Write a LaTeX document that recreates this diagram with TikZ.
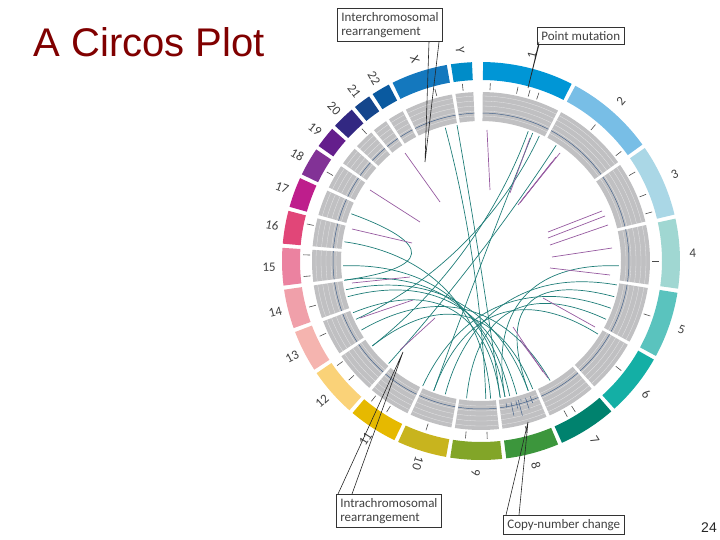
\documentclass[tikz,border=0pt]{standalone}
\usepackage{fontspec}
\setmainfont{Liberation Sans}
\newfontfamily\boxfont{Carlito}
\definecolor{titred}{RGB}{128,0,0}
\definecolor{teal1}{RGB}{30,125,120}
\definecolor{purp}{RGB}{150,90,160}
\definecolor{ringgray}{RGB}{192,192,194}
\definecolor{stepc}{RGB}{70,100,140}
\definecolor{c1}{RGB}{0,150,214}\definecolor{c2}{RGB}{120,190,230}\definecolor{c3}{RGB}{170,215,230}
\definecolor{c4}{RGB}{160,215,210}\definecolor{c5}{RGB}{90,195,190}\definecolor{c6}{RGB}{20,175,165}
\definecolor{c7}{RGB}{0,130,110}\definecolor{c8}{RGB}{60,150,60}\definecolor{c9}{RGB}{130,165,40}
\definecolor{c10}{RGB}{200,180,30}\definecolor{c11}{RGB}{230,185,0}\definecolor{c12}{RGB}{250,210,120}
\definecolor{c13}{RGB}{245,180,175}\definecolor{c14}{RGB}{240,160,170}\definecolor{c15}{RGB}{235,130,160}
\definecolor{c16}{RGB}{225,70,120}\definecolor{c17}{RGB}{190,30,140}\definecolor{c18}{RGB}{130,50,150}
\definecolor{c19}{RGB}{100,30,140}\definecolor{c20}{RGB}{50,40,130}\definecolor{c21}{RGB}{20,70,140}
\definecolor{c22}{RGB}{10,90,160}\definecolor{cX}{RGB}{20,120,190}\definecolor{cY}{RGB}{0,140,200}
\tikzset{
 callbox/.style={draw=black!80,line width=0.7pt,fill=white,align=left,inner sep=4pt,font=\boxfont\fontsize{13}{14}\selectfont,text=black!75},
 callline/.style={draw=black!85,line width=0.6pt},
 interlink/.style={draw=teal1,line width=0.7pt},
 intralink/.style={draw=purp,line width=0.7pt},
 tickm/.style={draw=black!70,line width=0.6pt},
 chrlab/.style={font=\boxfont\fontsize{13}{14}\selectfont,text=black!75,inner sep=1pt}
}
\begin{document}
\begin{tikzpicture}[x=1pt,y=-1pt]
\useasboundingbox (0,0) rectangle (720,540);
\node[anchor=west,text=titred,font=\fontsize{40}{44}\selectfont] (title) at (30,42) {A Circos Plot};
\node[font=\fontsize{14}{16}\selectfont,text=black!85] (pg) at (709,528) {24};
\begin{scope}[shift={(481,261)}]
\coordinate (ctr) at (0,0);
\foreach \s/\e/\l/\c in {0.6/27.1/1/c1,28.3/54.2/2/c2,55.4/76.5/3/c3,77.7/98.0/4/c4,99.2/118.5/5/c5,119.7/137.9/6/c6,139.1/156.0/7/c7,157.2/172.7/8/c8,173.9/188.9/9/c9,190.1/204.6/10/c10,205.8/220.2/11/c11,221.4/235.7/12/c12,236.9/249.1/13/c13,250.3/261.7/14/c14,262.9/273.8/15/c15,275.0/284.6/16/c16,285.8/294.6/17/c17,295.8/304.1/18/c18,305.3/311.6/19/c19,312.8/319.5/20/c20,320.7/325.8/21/c21,327.0/332.4/22/c22,333.6/350.1/X/cX,351.3/357.4/Y/cY}{
  \fill[\c] plot[variable=\t,domain=\s-90:\e-90,samples=16] (\t:199) -- plot[variable=\t,domain=\e-90:\s-90,samples=16] (\t:181) -- cycle;
  \fill[ringgray] plot[variable=\t,domain=\s-90:\e-90,samples=16] (\t:169) -- plot[variable=\t,domain=\e-90:\s-90,samples=16] (\t:140) -- cycle;
  \foreach \r in {145,150,155,160,165}{\draw[white!60!ringgray,line width=0.3pt] plot[variable=\t,domain=\s-90:\e-90,samples=12] (\t:\r);}
  \draw[stepc,line width=0.5pt] plot[variable=\t,domain=\s-90:\e-90,samples=12] (\t:148);
  \pgfmathsetmacro{\m}{(\s+\e)/2}
  \pgfmathsetmacro{\rot}{\m<200 ? 90-\m : 270-\m}
  \node[chrlab,rotate=\rot] (lab\l) at (\m-90:212) {\l};
}
\foreach \t/\r in {160/151,162/156,164/146,165/160,166/152,168/158,170/149}{\draw[stepc,line width=0.5pt] (\t-90:144) -- (\t-90:\r);}
\foreach \t in {3,12,16,19,40,52,60,68,74,90,108,128,148,151,165,178,185,198,212,218,228,234,245,255,265,272,282,300,318,345,354}{\draw[tickm] (\t-90:171) -- (\t-90:178);}
\foreach \a/\b in {345/178,350/172,20/232,25/245,33/222,22/200,255/165,262/168,268/170,258/160,248/172,100/195,110/205,115/186,122/200,290/262,278/176,92/170,105/160,240/150,232/158}{
  \draw[interlink] (\a-90:138) .. controls (\a-90:50) and (\b-90:50) .. (\b-90:138);
}
\end{scope}
\foreach \x/\y/\u/\v in {487/130/490/190,530/138/510/193,560/153/522/200,556/157/520/203,552/162/518/205,405/153/440/202,370/190/420/222,352/229/412/243,602/211/548/232,605/216/548/238,608/225/550/245,612/248/552/257,610/275/550/268,543/298/595/327,352/283/410/277,360/318/413/300,400/350/435/318,513/327/543/372,520/340/548/378}{
  \draw[intralink] (\x,\y) -- (\u,\v);
}
\node[callbox,anchor=north west] (inter) at (337,8) {Interchromosomal\\rearrangement};
\node[callbox,anchor=north west] (point) at (537,27) {Point mutation};
\node[callbox,anchor=south west] (intra) at (336,528) {Intrachromosomal\\rearrangement};
\node[callbox,anchor=south west] (copy) at (503,535) {Copy-number change};
\coordinate (pi) at (425,162);
\coordinate (pp) at (528,88);
\coordinate (pa) at (403,352);
\coordinate (pc) at (528,422);
\draw[callline] ([xshift=-14pt]inter.south east) -- (pi) -- ([xshift=-4pt]inter.south east);
\draw[callline] ([xshift=2pt]point.south west) -- (pp) -- ([xshift=2pt,yshift=-6pt]point.west);
\draw[callline] ([xshift=2pt]intra.north west) -- (pa) -- ([xshift=16pt]intra.north west);
\draw[callline] ([xshift=3pt]copy.north west) -- (pc) -- ([xshift=16pt]copy.north west);
\end{tikzpicture}
\end{document}
